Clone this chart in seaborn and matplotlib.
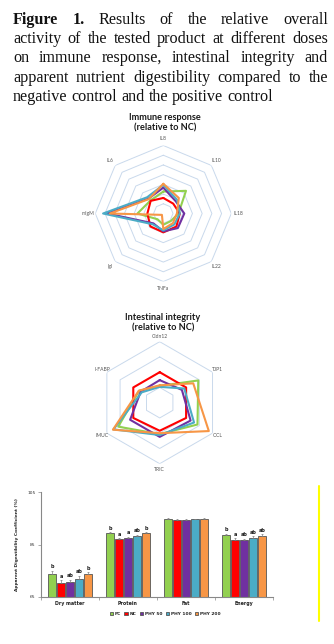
import numpy as np
import pandas as pd
import matplotlib
matplotlib.use("Agg")
import matplotlib.pyplot as plt
import seaborn as sns
from matplotlib.lines import Line2D

# ---------------- data ----------------
series = ["PC", "NC", "PHY 50", "PHY 100", "PHY 200"]
colors = ["#92d050", "#ff0000", "#7030a0", "#4bacc6", "#f79646"]

immune_axes = ["IL8", "IL10", "IL18", "IL22", "TNFa", "IgI", "mIgM", "IL6"]
immune_pc = [1.13, 1.65, 0.78, 0.55, 0.58, 0.42, 1.33, 0.94]
immune_nc = [0.80, 0.72, 0.85, 0.95, 0.97, 0.94, 0.82, 0.92]
immune_phy50 = [1.33, 0.90, 1.08, 1.06, 0.92, 0.72, 2.90, 1.08]
immune_phy100 = [1.47, 1.00, 0.85, 0.80, 0.87, 0.78, 3.10, 1.18]
immune_phy200 = [1.53, 1.13, 0.70, 0.70, 0.80, 0.10, 2.75, 1.05]

integrity_axes = ["Cldn12", "TJP1", "OCL", "TRIC", "IMUC", "I-FABP"]
integrity_pc = [0.55, 1.46, 1.43, 1.03, 1.57, 0.78]
integrity_nc = [1.00, 1.00, 1.00, 0.92, 1.00, 1.00]
integrity_phy50 = [0.74, 0.84, 1.17, 1.12, 1.12, 0.72]
integrity_phy100 = [0.52, 0.93, 1.30, 1.06, 1.75, 0.68]
integrity_phy200 = [0.57, 1.27, 1.86, 1.00, 1.77, 0.79]

nutrients = ["Dry matter", "Protein", "Fat", "Energy"]
adc_pc = [73.6, 89.2, 94.8, 88.5]
adc_nc = [70.5, 87.1, 94.4, 86.6]
adc_phy50 = [70.8, 87.6, 94.4, 86.7]
adc_phy100 = [71.8, 88.4, 94.6, 87.5]
adc_phy200 = [73.6, 89.4, 94.8, 88.4]
err_pc = [1.4, 0.4, 0.2, 0.6]
err_nc = [0.8, 0.4, 0.2, 0.9]
err_phy50 = [0.8, 0.4, 0.2, 0.5]
err_phy100 = [1.3, 0.4, 0.2, 0.6]
err_phy200 = [0.8, 0.4, 0.2, 0.5]
let_pc = ["b", "b", "", "b"]
let_nc = ["a", "a", "", "a"]
let_phy50 = ["ab", "a", "", "ab"]
let_phy100 = ["ab", "ab", "", "ab"]
let_phy200 = ["b", "b", "", "ab"]

caption_lines = [
    "Figure 1. Results of the relative overall",
    "activity of the tested product at different doses",
    "on immune response, intestinal integrity and",
    "apparent nutrient digestibility compared to the",
    "negative control and the positive control",
]

# ---------------- figure ----------------
W, H = 334, 644
sns.set_theme(style="white")
plt.rcParams["font.family"] = ["DejaVu Sans"]
fig = plt.figure(figsize=(W / 100, H / 100), dpi=100)
fig.patch.set_facecolor("white")


def fx(x):
    return x / W


def fy(y):
    return 1 - y / H


# ---- caption (justified) ----
renderer = fig.canvas.get_renderer()
x0, x1 = 13, 328
FS = 11.6
baselines = [24, 43.3, 62.5, 81.7, 101]
sp = fig.text(0, 0, "a a", fontsize=FS, family="Liberation Serif")
sp2 = fig.text(0, 0, "aa", fontsize=FS, family="Liberation Serif")
space_w = sp.get_window_extent(renderer).width - sp2.get_window_extent(renderer).width
sp.remove(); sp2.remove()
for i, line in enumerate(caption_lines):
    words = line.split(" ")
    texts = []
    for j, w in enumerate(words):
        bold = (i == 0 and j < 2)
        t = fig.text(0, fy(baselines[i]), w, fontsize=FS, family="Liberation Serif",
                     weight="bold" if bold else "normal", va="baseline", ha="left",
                     color="#111111")
        texts.append(t)
    widths = [t.get_window_extent(renderer).width for t in texts]
    if i < len(caption_lines) - 1:
        gap = (x1 - x0 - sum(widths)) / (len(words) - 1)
    else:
        gap = space_w
    x = x0
    for t, w in zip(texts, widths):
        t.set_x(fx(x))
        x += w + gap

grid_col = "#c9d9ec"


def radar(box, labels, vals, rmax, step, label_r):
    cx, cy, rad = box
    ax = fig.add_axes([fx(cx - rad), fy(cy + rad), 2 * rad / W, 2 * rad / H], projection="polar")
    ax.set_theta_zero_location("N")
    ax.set_theta_direction(-1)
    n = len(labels)
    theta = np.linspace(0, 2 * np.pi, n + 1)
    for r in np.arange(step, rmax + 1e-9, step):
        ax.plot(theta, [r] * (n + 1), color=grid_col, lw=0.7, zorder=1)
    rows = []
    for s, v in zip(series, vals):
        vv = list(v) + [v[0]]
        for k in range(n + 1):
            rows.append({"series": s, "theta": theta[k], "r": vv[k]})
    df = pd.DataFrame(rows)
    sns.lineplot(data=df, x="theta", y="r", hue="series", hue_order=series,
                 palette=colors, sort=False, estimator=None,
                 lw=1.5, ax=ax, legend=False, zorder=3)
    ax.set_ylim(0, rmax)
    ax.axis("off")
    for k, lab in enumerate(labels):
        ax.text(theta[k], label_r, lab, ha="center", va="center", fontsize=3.6,
                color="#555555", family="Lato")
    return ax


radar((163.3, 213.5, 68), immune_axes,
      [immune_pc, immune_nc, immune_phy50, immune_phy100, immune_phy200],
      3.5, 0.5, 3.88)
fig.text(fx(165), fy(117), "Immune response", ha="center", va="center",
         fontsize=6.6, weight="bold", family="Lato", color="#1a1a1a")
fig.text(fx(165), fy(128), "(relative to NC)", ha="center", va="center",
         fontsize=6.6, weight="bold", family="Lato", color="#1a1a1a")

radar((159.7, 402.7, 61), integrity_axes,
      [integrity_pc, integrity_nc, integrity_phy50, integrity_phy100, integrity_phy200],
      2.0, 0.5, 2.18)
fig.text(fx(163), fy(317), "Intestinal integrity", ha="center", va="center",
         fontsize=6.6, weight="bold", family="Lato", color="#1a1a1a")
fig.text(fx(163), fy(328), "(relative to NC)", ha="center", va="center",
         fontsize=6.6, weight="bold", family="Lato", color="#1a1a1a")

# ---- bar chart ----
bx0, bx1, by_top, by_bot = 41, 273, 492, 597
axb = fig.add_axes([fx(bx0), fy(by_bot), (bx1 - bx0) / W, (by_bot - by_top) / H])
vals = [adc_pc, adc_nc, adc_phy50, adc_phy100, adc_phy200]
errs = [err_pc, err_nc, err_phy50, err_phy100, err_phy200]
lets = [let_pc, let_nc, let_phy50, let_phy100, let_phy200]
rows = []
for s, v in zip(series, vals):
    for c, val in zip(nutrients, v):
        rows.append({"nutrient": c, "series": s, "value": val})
dfb = pd.DataFrame(rows)
sns.barplot(data=dfb, x="nutrient", y="value", hue="series", hue_order=series,
            order=nutrients, palette=colors, width=0.78, gap=0.12, errorbar=None,
            edgecolor="#555555", linewidth=0.6, saturation=1, ax=axb)
axb.set_ylim(65, 105)
axb.set_xlim(-0.5, 3.5)
bar_conts = list(axb.containers)
for si, cont in enumerate(bar_conts):
    for ci, p in enumerate(cont.patches):
        xc = p.get_x() + p.get_width() / 2
        top = p.get_y() + p.get_height()
        e = errs[si][ci]
        axb.errorbar([xc], [top], yerr=[[0], [e]], fmt="none", ecolor="#7f7f7f",
                     elinewidth=0.5, capsize=0.8, capthick=0.5, zorder=4)
        if lets[si][ci]:
            axb.annotate(lets[si][ci], (xc, top + e), xytext=(0, 1.0),
                         textcoords="offset points", ha="center", va="bottom",
                         fontsize=3.6, weight="bold", color="#222222")
axb.set_yticks([65, 85, 105])
axb.set_yticklabels(["65", "85", "105"])
axb.set_xticks(range(4))
axb.set_xticklabels(nutrients, fontsize=3.4, weight="bold", color="#222222")
axb.set_xticks(np.arange(-0.5, 4, 1), minor=True)
axb.tick_params(axis="x", which="major", length=0, pad=3)
axb.tick_params(axis="x", which="minor", length=2, width=0.5, color="#888888", bottom=True)
axb.tick_params(axis="y", length=2, width=0.5, color="#888888", labelsize=3.2,
                labelcolor="#333333", pad=2, left=True)
for side in ["top", "right"]:
    axb.spines[side].set_visible(False)
for side in ["left", "bottom"]:
    axb.spines[side].set_color("#888888")
    axb.spines[side].set_linewidth(0.8)
axb.set_xlabel("")
axb.set_ylabel("Apparent Digestibility Coefficient (%)", fontsize=3.15, weight="bold",
               color="#222222", labelpad=6)
axb.grid(False)
leg = axb.legend(loc="center", bbox_to_anchor=((165 - bx0) / (bx1 - bx0), (by_bot - 614) / (by_bot - by_top)),
                 ncol=5, frameon=False, fontsize=3.2, handlelength=0.8, handleheight=0.8,
                 columnspacing=0.8, handletextpad=0.3, borderaxespad=0)
for t in leg.get_texts():
    t.set_weight("bold")
    t.set_color("#222222")

fig.add_artist(Line2D([fx(319), fx(319)], [fy(486), fy(621)], color="#ffff00", lw=1.5,
                      transform=fig.transFigure))

fig.savefig("out.png", dpi=100, facecolor="white")
